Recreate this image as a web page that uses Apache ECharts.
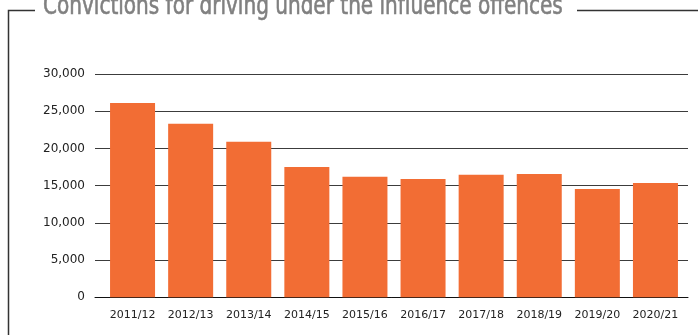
<!DOCTYPE html>
<html>
<head>
<meta charset="utf-8">
<script src="https://cdn.jsdelivr.net/npm/echarts@6/dist/echarts.min.js"></script>
<style>
  html, body { margin: 0; padding: 0; background: #fff; }
  #chart { width: 698px; height: 335px; }
</style>
</head>
<body>
<div id="chart"></div>
<script>
// Financial years
var years = ['2011/12', '2012/13', '2013/14', '2014/15', '2015/16',
             '2016/17', '2017/18', '2018/19', '2019/20', '2020/21'];
// Convictions per year
var convictions = [26100, 23300, 20900, 17500, 16200, 15900, 16450, 16550, 14550, 15350];
// Value axis
var yMin = 0, yMax = 30000, yStep = 5000;
var titleText = 'Convictions for driving under the influence offences';

var chart = echarts.init(document.getElementById('chart'), null, { renderer: 'canvas' });

var frameColor = '#333';
var option = {
  animation: false,
  backgroundColor: '#ffffff',
  graphic: [
    // frame round the chart, broken by the heading
    { type: 'polyline', silent: true,
      shape: { points: [[35, 10.5], [8.5, 10.5], [8.5, 340]] },
      style: { stroke: frameColor, lineWidth: 1.5, fill: null } },
    { type: 'line', silent: true,
      shape: { x1: 577, y1: 10.5, x2: 700, y2: 10.5 },
      style: { stroke: frameColor, lineWidth: 1.5 } },
    // condensed heading
    { type: 'text', silent: true, x: 43, y: -6.5, scaleX: 0.825, originX: 0, originY: 0,
      style: { text: titleText, fill: '#808080', stroke: '#808080', lineWidth: 0.6,
               font: 'normal 27px "Liberation Sans Narrow", "DejaVu Sans Condensed", sans-serif' } }
  ],
  grid: [
    { left: 95, width: 593, top: 74, bottom: 37.7 },
    { left: 103.5, width: 581, top: 74, bottom: 37.7 }
  ],
  xAxis: [
    { type: 'category', gridIndex: 0, data: years,
      axisLine: { show: true, lineStyle: { color: '#111', width: 1 } },
      axisTick: { show: false }, axisLabel: { show: false } },
    { type: 'category', gridIndex: 1, data: years,
      axisLine: { show: false }, axisTick: { show: false },
      axisLabel: { color: '#222', fontSize: 11, fontFamily: '"DejaVu Sans", sans-serif', margin: 12, interval: 0 } }
  ],
  yAxis: [
    { type: 'value', gridIndex: 0, min: yMin, max: yMax, interval: yStep,
      axisLine: { show: false }, axisTick: { show: false },
      axisLabel: { color: '#222', fontSize: 12, fontFamily: '"DejaVu Sans", sans-serif', margin: 10,
                   formatter: function (v) { return v.toLocaleString('en-GB'); } },
      splitLine: { show: true, lineStyle: { color: '#3c3c3c', width: 1.2 } } },
    { type: 'value', gridIndex: 1, min: yMin, max: yMax, interval: yStep, show: false }
  ],
  series: [
    { type: 'bar', xAxisIndex: 1, yAxisIndex: 1, data: convictions,
      barWidth: 45, itemStyle: { color: '#f26d34' } }
  ]
};
chart.setOption(option);
</script>
</body>
</html>
